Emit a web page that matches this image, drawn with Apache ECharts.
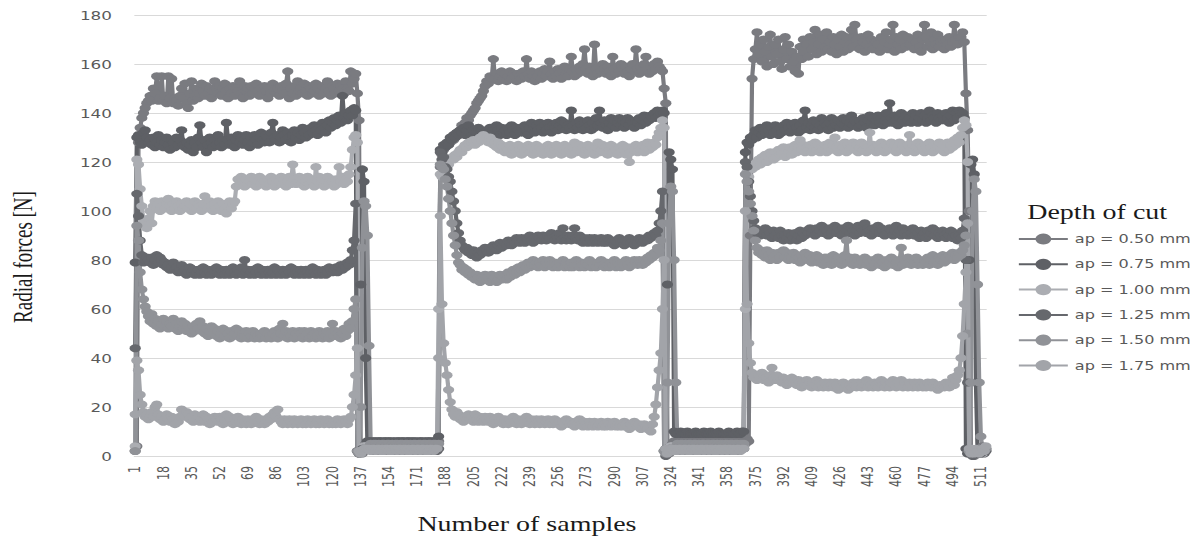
<!DOCTYPE html>
<html><head><meta charset="utf-8">
<script src="https://cdn.jsdelivr.net/npm/echarts@6/dist/echarts.min.js"></script>
<style>
html,body{margin:0;padding:0;overflow:hidden;background:#fff}
#wrap{width:1198px;height:538px;overflow:hidden}
#chart{width:856px;height:538px;transform:scaleX(1.39953);transform-origin:0 0}
</style>
</head><body><div id="wrap"><div id="chart"></div></div>
<script>
// ---------- DATA ----------
const seriesNames = ['ap = 0.50 mm','ap = 0.75 mm','ap = 1.00 mm','ap = 1.25 mm','ap = 1.50 mm','ap = 1.75 mm'];
const yMin = 0, yMax = 180, yStep = 20;
const labelEvery = 17;

// ap = 0.50 mm
const ap050_run1 = [2,4,128,134,138,140,142,144,145,147,
145,150,148,155,145,146,155,145,147,144,
155,146,154,144,146,145,143,147,150,146,
152,144,142,148,153,145,147,150,146,148,
152,149,147,151,148,150,146,149,153,150,
148,151,147,150,152,149,146,150,148,151,
147,150,149,153,148,146,151,149,150,147,
151,148,150,152,149,147,150,148,151,149,
146,150,148,152,149,150,150,147,151,149,
148,152,157,146,150,148,151,147,153,149,
150,148,152,149,147,151,150,148,149,152,
150,147,149,151,148,150,153,149,147,151,
150,148,152,149,151,150,148,153,150,149,
157,152,154,156];
const ap050_gap1 = [148,137,2,1,3,5,5,6,
5,6,5,5,6,5,6,5,5,6,
5,6,5,5,6,5,5,6,5,6,
5,5,6,5,6,5,5,6,5,5,
6,5,5,6,5,6,5,5,6,5,
5];
const ap050_run2 = [6,118,123,125,126,127,127,128,129,129,
130,132,131,133,135,134,136,138,137,139,
140,141,142,144,145,146,147,149,151,153,
152,155,154,162,154,156,153,155,157,154,
156,153,155,157,154,156,155,153,156,155,
154,157,155,162,156,154,157,155,153,156,
155,157,154,156,158,155,157,161,156,154,
157,155,158,156,154,157,159,156,155,158,
163,157,155,158,156,159,157,160,166,158,
156,159,157,155,168,158,156,159,157,160,
158,156,159,157,155,163,158,156,159,157,
160,158,156,159,157,155,158,160,157,166,
158,156,159,157,160,163,158,156,159,157,
160,158,161,159,158,157];
const ap050_gap2 = [150,144,2,1,3,5,6,5,
5,6,5,5,6,5,6,5,5,6,
5,5,6,5,6,5,5,6,5,6,
5,6,5,5,6,5,5,6,5,5,
6,5,5,6,5,6,5,5,6,5];
const ap050_run3 = [6,5,7,6,90,154,162,166,173,164,
168,161,170,165,159,167,172,163,160,168,
164,170,161,158,166,171,162,168,159,165,
161,157,163,156,167,162,170,165,168,163,
171,166,169,174,164,168,172,165,170,167,
173,166,169,165,171,168,164,170,167,172,
165,169,171,166,168,174,167,176,170,168,
166,171,169,165,168,172,167,170,166,169,
169,168,165,171,167,169,173,166,168,170,
176,165,171,168,170,166,172,169,167,171,
168,168,170,166,169,172,167,165,170,176,
171,167,169,173,166,170,168,172,167,169,
170,166,170,168,171,167,169,176,170,168,
171,171,173,169];
const ap050_tail = [148,133,100,2,1,0,1,3,2,1,4,2,3];

// ap = 0.75 mm
const ap075_run1 = [79,130,131,128,127,132,133,130,128,129,
127,130,126,128,131,127,129,126,128,130,
127,125,129,128,126,130,127,129,133,127,
126,128,125,127,129,124,128,126,130,135,
128,126,129,124,127,130,128,126,129,127,
131,128,126,129,127,136,129,127,130,128,
126,129,131,128,130,127,129,131,128,126,
130,128,131,129,127,130,132,129,128,131,
130,128,132,136,130,129,131,128,130,133,
131,129,132,130,128,131,133,130,132,129,
131,134,132,130,133,131,134,132,135,133,
131,134,133,136,134,132,135,137,134,136,
138,135,137,139,136,147,138,140,137,139,
141,139,142,141];
const ap075_gap1 = [2,1,70,117,112,40,6,6,
6,5,6,6,5,6,6,5,6,6,
5,6,6,5,6,5,6,6,5,6,
6,5,6,6,5,6,6,5,6,5,
6,6,5,6,5,6,6,5,6,6,
5];
const ap075_run2 = [8,125,124,127,126,128,127,130,129,131,
130,132,131,133,132,134,131,133,135,132,
131,133,130,132,134,131,133,132,130,133,
132,134,131,133,132,135,133,131,134,132,
133,131,134,132,135,133,131,134,133,132,
134,132,135,133,131,134,136,133,132,135,
133,136,134,132,135,133,136,134,132,135,
134,136,133,135,137,134,136,133,135,134,
141,135,133,136,134,137,135,133,136,134,
137,135,133,136,134,138,135,141,136,134,
137,135,133,136,138,135,137,134,136,138,
135,137,134,136,138,135,137,136,134,137,
136,138,135,137,139,136,138,137,139,138,
140,138,141,139,140,141];
const ap075_gap2 = [140,3,70,124,121,117,10,9,
9,9,10,9,9,9,10,9,9,9,
9,10,9,9,9,9,10,9,9,9,
10,9,9,9,9,10,9,9,9,9,
9,10,9,9,9,9,10,9,9,10];
const ap075_run3 = [10,124,128,127,130,129,131,133,130,132,
134,131,133,132,135,133,131,134,132,135,
133,131,134,132,135,133,136,134,132,135,
133,136,134,132,135,133,137,141,134,136,
133,135,137,134,136,133,135,138,134,136,
135,133,136,138,134,136,135,137,134,136,
138,135,137,134,136,139,135,137,136,134,
137,135,138,136,134,137,139,136,138,135,
137,139,136,138,135,137,140,136,144,138,
136,139,137,135,138,140,137,136,139,137,
138,136,140,137,139,136,138,140,137,139,
136,138,141,137,139,138,136,140,138,137,
139,137,140,138,136,139,141,137,140,138,
141,139,140,138];
const ap075_tail = [3,1,80,119,121,115,30,2,1,3,2,1,2];

// ap = 1.00 mm
const ap100_run1 = [4,121,119,109,102,96,94,93,97,100,
95,102,104,101,103,100,104,102,101,103,
105,102,100,103,101,104,102,100,103,101,
102,104,101,103,100,102,104,101,103,102,
100,103,106,102,101,104,102,100,103,101,
104,102,100,103,101,99,102,104,101,103,
104,110,113,111,114,112,110,113,111,112,
114,111,113,110,112,114,111,113,112,110,
113,111,114,112,110,113,111,112,114,111,
113,110,112,114,111,119,113,111,112,114,
111,113,110,112,114,111,113,112,110,118,
112,114,111,113,110,112,114,111,113,112,
110,113,111,118,112,114,111,113,112,115,
118,125,130,131];
const ap100_gap1 = [128,2,1,3,4,4,4,4,
4,3,4,4,3,4,4,3,4,4,
3,4,4,3,4,3,4,4,3,4,
4,3,4,4,3,4,3,4,4,3,
4,4,3,4,3,4,4,3,4,4,
3];
const ap100_run2 = [60,115,114,116,117,118,119,121,122,121,
123,122,124,125,124,126,127,126,128,127,
128,129,127,129,128,130,129,131,129,130,
128,130,129,127,128,126,128,125,127,126,
124,126,125,127,123,125,126,124,127,125,
123,126,124,125,127,124,126,123,125,127,
124,126,125,123,126,124,127,125,123,126,
125,127,124,126,123,125,127,124,126,125,
123,126,128,124,125,127,124,126,123,125,
127,124,126,125,123,126,128,124,125,127,
124,126,123,125,127,124,126,125,123,126,
124,127,125,123,126,120,124,126,125,127,
124,126,125,127,124,126,128,125,127,126,
128,127,130,132,134,137];
const ap100_gap2 = [134,2,1,3,4,4,3,4,
4,3,4,4,3,4,3,4,4,3,
4,4,3,4,3,4,4,3,4,4,
3,4,4,3,4,3,4,4,3,4,
4,3,4,4,3,4,4,3,4,4];
const ap100_run3 = [4,60,116,114,118,117,119,118,120,121,
119,122,121,123,120,122,124,123,121,124,
122,125,123,124,126,122,125,124,126,123,
125,127,124,126,129,125,127,124,126,125,
127,124,126,128,125,127,124,126,125,127,
124,126,128,125,127,130,126,124,127,125,
126,128,124,127,125,126,128,125,127,124,
126,128,125,127,124,126,132,125,127,126,
124,127,125,128,126,124,127,125,126,128,
125,127,124,126,128,125,127,126,124,127,
131,125,127,124,126,128,125,127,126,124,
127,125,128,126,124,127,125,126,128,125,
127,124,126,128,125,127,126,129,127,130,
128,131,134,137];
const ap100_tail = [135,120,2,1,3,2,1,2,3,2,1,2,3];

// ap = 1.25 mm
const ap125_run1 = [44,107,98,88,82,79,80,81,80,79,
81,78,80,82,79,81,80,78,79,77,
78,76,77,79,76,77,75,76,78,75,
76,74,75,77,75,76,74,75,76,74,
75,77,75,74,76,75,74,76,75,77,
75,74,76,75,74,76,75,74,75,77,
75,74,76,75,77,74,80,75,76,74,
75,76,74,75,77,75,74,76,75,74,
76,75,74,75,77,74,76,75,74,76,
75,74,76,75,77,75,74,76,75,74,
76,75,74,76,75,74,75,77,75,74,
76,75,74,75,76,74,75,77,76,75,
76,77,75,77,78,76,78,77,79,78,
80,84,88,103];
const ap125_gap1 = [2,1,2,3,3,3,3,3,
3,2,3,3,2,3,2,3,3,2,
3,3,2,3,2,3,3,2,3,3,
2,3,3,2,3,2,3,3,2,3,
3,2,3,3,2,3,3,2,3,3,
2];
const ap125_run2 = [3,124,121,122,118,117,114,112,108,104,
100,95,91,88,86,85,84,85,83,84,
82,84,83,81,83,82,84,83,85,84,
83,85,84,86,85,84,86,87,85,86,
87,86,88,87,86,88,87,89,88,87,
89,88,87,89,88,90,88,87,89,88,
90,89,88,90,89,88,90,89,91,89,
88,90,89,91,88,93,89,88,90,89,
88,90,93,89,88,90,89,87,89,88,
87,89,88,87,89,88,87,88,89,87,
88,87,89,88,87,88,86,88,87,89,
87,88,86,88,87,89,87,88,86,88,
87,89,88,87,88,89,88,90,89,90,
91,90,92,95,100,108];
const ap125_gap2 = [2,0,1,3,3,3,3,3,
3,2,3,3,2,3,2,3,3,2,
3,3,2,3,2,3,3,2,3,3,
2,3,3,2,3,2,3,3,2,3,
3,2,3,3,2,3,3,2,3,3];
const ap125_run3 = [3,120,118,112,106,100,96,93,91,92,
90,92,91,93,90,92,91,89,92,90,
91,89,92,90,88,90,89,91,88,90,
89,91,88,90,92,89,91,90,92,91,
93,91,92,90,93,91,92,94,91,93,
92,90,93,91,92,94,91,93,92,90,
93,91,92,94,91,93,92,90,92,94,
91,93,92,95,91,93,92,90,93,91,
92,94,91,93,92,90,92,91,93,92,
90,92,94,91,92,90,93,91,92,90,
92,91,93,90,92,91,89,92,90,91,
89,92,90,91,93,90,92,89,91,90,
92,90,89,91,90,92,89,91,90,88,
90,89,92,97];
const ap125_tail = [80,30,2,1,0,2,1,3,2,1,2,3,2];

// ap = 1.50 mm
const ap150_run1 = [2,94,88,75,68,64,61,59,57,55,
58,54,56,53,55,52,54,56,53,55,
52,54,53,56,52,54,51,53,55,52,
54,51,53,52,50,53,51,54,52,55,
51,53,50,52,49,51,53,50,52,49,
51,48,50,52,49,51,50,48,51,49,
50,52,49,51,48,50,49,51,48,50,
49,51,48,50,49,48,50,49,51,48,
50,49,48,50,51,49,48,52,50,54,
49,51,48,50,49,51,48,50,49,51,
50,48,51,49,50,48,51,49,50,48,
49,51,50,48,50,49,51,48,50,54,
49,51,50,49,48,50,52,49,51,54,
52,55,60,64];
const ap150_gap1 = [2,1,20,85,104,102,90,45,
5,4,5,5,4,5,4,5,5,4,
5,5,4,5,4,5,5,4,5,5,
4,5,5,4,5,4,5,5,4,5,
5,4,5,5,4,5,5,4,5,5,
4];
const ap150_run2 = [5,119,118,117,113,110,105,100,95,90,
86,82,79,78,76,77,75,76,74,75,
73,74,72,74,73,71,73,72,74,72,
73,71,74,72,73,71,72,74,72,73,
74,72,75,73,74,76,74,75,77,75,
76,78,76,77,79,77,78,80,78,79,
77,79,78,80,77,79,78,80,78,77,
79,78,77,79,78,80,77,79,78,77,
79,77,78,80,78,77,79,78,77,79,
78,80,77,79,78,77,79,78,80,78,
77,79,78,77,79,78,80,77,79,78,
77,79,78,80,78,77,79,78,80,79,
78,80,79,78,80,79,81,80,82,81,
83,82,85,84,88,95];
const ap150_gap2 = [2,1,30,95,110,108,80,30,
5,4,5,5,4,5,4,5,5,4,
5,5,4,5,4,5,5,4,5,5,
4,5,5,4,5,4,5,5,4,5,
5,4,5,5,4,5,5,4,5,5];
const ap150_run3 = [5,115,112,108,103,98,92,88,85,83,
84,82,83,81,84,82,80,83,81,82,
80,83,81,82,84,81,83,80,82,81,
83,80,82,81,79,82,80,83,81,80,
82,79,81,80,82,79,81,80,78,81,
79,81,80,78,82,79,80,81,79,78,
80,82,88,79,81,80,78,81,79,80,
78,80,79,81,78,80,79,77,80,78,
79,81,78,80,79,77,80,78,79,81,
78,80,79,77,80,85,78,80,79,81,
79,78,80,79,81,78,80,79,78,80,
79,81,78,80,82,79,80,78,81,80,
82,79,81,80,82,81,83,80,82,81,
83,82,84,86];
const ap150_tail = [90,50,2,30,100,113,108,70,30,8,3,2,3];

// ap = 1.75 mm
const ap175_run1 = [17,39,35,25,21,18,16,17,15,16,
18,16,20,21,17,15,16,14,15,17,
15,14,16,15,13,15,14,16,19,17,
16,18,17,15,16,14,17,15,16,14,
15,17,14,16,15,13,15,14,16,15,
14,16,15,13,15,17,14,16,15,13,
15,14,16,14,13,15,14,13,15,14,
13,15,14,16,14,13,15,14,13,15,
14,16,15,17,18,16,19,15,14,13,
15,14,13,15,14,13,15,14,13,14,
15,13,14,13,15,14,13,14,15,13,
14,13,15,14,13,14,15,13,14,13,
14,13,15,14,13,14,15,14,13,15,
16,20,25,33];
const ap175_gap1 = [44,2,1,2,3,3,3,3,
2,3,3,2,3,3,2,3,2,3,
3,2,3,2,3,3,2,3,3,2,
3,3,2,3,2,3,3,2,3,3,
2,3,3,2,3,2,3,3,2,3,
3];
const ap175_run2 = [40,98,62,46,38,33,27,22,19,17,
16,18,17,15,16,14,16,15,17,15,
16,14,17,15,14,16,15,14,16,15,
14,16,15,13,15,14,16,14,15,13,
15,14,13,15,14,16,14,13,15,14,
13,15,14,16,14,13,15,14,13,15,
14,13,15,14,13,14,15,13,14,13,
15,14,13,14,12,14,13,15,14,13,
14,13,12,14,13,15,13,12,14,13,
12,14,13,12,14,13,12,13,14,12,
13,12,14,13,12,13,14,12,13,12,
13,12,14,13,12,11,13,12,14,13,
12,13,11,12,13,12,11,12,10,13,
16,21,28,35,42,60];
const ap175_gap2 = [80,3,1,2,3,3,2,3,
2,3,3,2,3,3,2,3,2,3,
3,2,3,2,3,3,2,3,3,2,
3,3,2,3,2,3,3,2,3,3,
2,3,3,2,3,2,3,3,2,3];
const ap175_run3 = [3,100,62,46,38,34,32,33,31,33,
32,34,31,33,32,30,33,36,32,31,
33,31,32,30,32,31,29,31,30,32,
30,31,29,31,30,28,30,29,31,29,
30,28,30,29,31,28,30,29,28,30,
29,28,30,29,28,30,29,27,29,28,
30,28,29,27,29,28,30,29,28,30,
29,28,30,29,31,28,30,29,28,30,
29,28,30,31,29,28,30,29,28,30,
31,29,28,30,29,31,28,30,29,28,
30,29,28,30,29,28,30,29,28,29,
28,30,29,28,30,29,28,27,29,28,
29,28,30,29,28,30,32,29,31,33,
35,40,49,62];
const ap175_tail = [75,95,3,1,2,1,3,2,1,2,3,2,4];

// ---------- build series ----------
const ap050 = [].concat(ap050_run1, ap050_gap1, ap050_run2, ap050_gap2, ap050_run3, ap050_tail);
const ap075 = [].concat(ap075_run1, ap075_gap1, ap075_run2, ap075_gap2, ap075_run3, ap075_tail);
const ap100 = [].concat(ap100_run1, ap100_gap1, ap100_run2, ap100_gap2, ap100_run3, ap100_tail);
const ap125 = [].concat(ap125_run1, ap125_gap1, ap125_run2, ap125_gap2, ap125_run3, ap125_tail);
const ap150 = [].concat(ap150_run1, ap150_gap1, ap150_run2, ap150_gap2, ap150_run3, ap150_tail);
const ap175 = [].concat(ap175_run1, ap175_gap1, ap175_run2, ap175_gap2, ap175_run3, ap175_tail);
const allData = [ap050, ap075, ap100, ap125, ap150, ap175];
const nSamples = Math.max.apply(null, allData.map(d => d.length));
const categories = Array.from({length: nSamples}, (_, i) => String(i + 1));

// ---------- styles ----------
const seriesColors = ['#7a7b80', '#5e6065', '#abadb2', '#66686d', '#909297', '#a2a4a9'];
const labelFont = '"DejaVu Sans", sans-serif';
const serifFont = '"Liberation Serif", "DejaVu Serif", serif';

const chart = echarts.init(document.getElementById('chart'), null, {renderer: 'svg'});
chart.setOption({
  animation: false,
  backgroundColor: '#ffffff',
  grid: {left: 96, right: 151, top: 15, bottom: 82, containLabel: false, outerBoundsMode: 'none'},
  xAxis: {
    type: 'category',
    data: categories,
    boundaryGap: true,
    axisLine: {show: true, lineStyle: {color: '#d9d9d9', width: 1}},
    axisTick: {show: false},
    axisLabel: {interval: labelEvery - 1, rotate: 90, fontSize: 11, color: '#595959', margin: 10, fontFamily: labelFont},
    splitLine: {show: false}
  },
  yAxis: {
    type: 'value', min: yMin, max: yMax, interval: yStep,
    axisLine: {show: false}, axisTick: {show: false},
    axisLabel: {fontSize: 12, color: '#595959', margin: 16, fontFamily: labelFont},
    splitLine: {lineStyle: {color: '#d9d9d9', width: 1}}
  },
  legend: {
    orient: 'vertical', left: 722, top: 228,
    itemWidth: 35, itemHeight: 14, itemGap: 13.3,
    textStyle: {fontSize: 11.5, color: '#595959', fontFamily: labelFont},
    data: seriesNames
  },
  graphic: [
    {type: 'text', x: 16.5, y: 257, rotation: Math.PI / 2,
     style: {text: 'Radial forces [N]', font: '19px ' + serifFont, fill: '#1a1a1a',
             textAlign: 'center', textVerticalAlign: 'middle', align: 'center', verticalAlign: 'middle'}},
    {type: 'text', x: 376.5, y: 524,
     style: {text: 'Number of samples', font: '20px ' + serifFont, fill: '#1a1a1a',
             textAlign: 'center', textVerticalAlign: 'middle', align: 'center', verticalAlign: 'middle'}},
    {type: 'text', x: 734, y: 212,
     style: {text: 'Depth of cut', font: '20px ' + serifFont, fill: '#1a1a1a',
             textAlign: 'left', textVerticalAlign: 'middle', align: 'left', verticalAlign: 'middle'}}
  ],
  series: allData.map((d, k) => ({
    name: seriesNames[k],
    type: 'line',
    data: d,
    symbol: 'circle',
    symbolSize: 8,
    showAllSymbol: true,
    color: seriesColors[k],
    itemStyle: {color: seriesColors[k]},
    lineStyle: {color: seriesColors[k], width: 3},
    emphasis: {disabled: true}
  }))
});
</script>
</body></html>
